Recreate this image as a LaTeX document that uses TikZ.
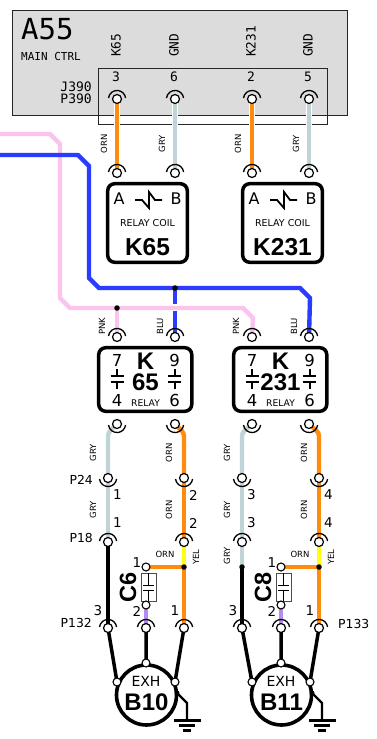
\documentclass[tikz,border=0pt]{standalone}
\usepackage{fontspec}
\setmainfont{DejaVu Sans}
\newfontfamily\mono{DejaVu Sans Mono}
\newfontfamily\arial{Liberation Sans}
\definecolor{orn}{HTML}{FF8C0F}
\definecolor{gry}{HTML}{C0D4D8}
\definecolor{pnk}{HTML}{FAC4EE}
\definecolor{blu}{HTML}{2A3CFF}
\definecolor{yel}{HTML}{FFFF10}
\definecolor{pur}{HTML}{B48CF0}
\definecolor{panel}{HTML}{DCDCDC}
\usetikzlibrary{calc}
\tikzset{
 x=1pt,y=-1pt,
 halo/.style={draw=white,line width=6pt},
 wire/.style={line width=4.4pt},
 pin/.style={circle,draw=black,fill=white,line width=1.2pt,minimum size=9pt,inner sep=0pt,outer sep=0pt},
 term/.style={circle,draw=black,fill=white,line width=1.1pt,minimum size=8pt,inner sep=0pt},
 dot/.style={circle,fill=black,minimum size=5.5pt,inner sep=0pt},
 box/.style={draw=black,fill=white,line width=3.5pt,rounded corners=7pt},
 wl/.style={font=\fontsize{8.5}{8.5}\selectfont,rotate=90,inner sep=0pt},
 pl/.style={font=\fontsize{13.5}{13.5}\selectfont,inner sep=0pt},
 rn/.style={font=\fontsize{16.5}{16.5}\selectfont,inner sep=0pt},
 conn/.style={font=\mono\fontsize{13}{13}\selectfont,inner sep=0pt,anchor=east},
 plabel/.style={font=\fontsize{12.4}{12.4}\selectfont,inner sep=0pt},
}
\newcommand{\arcup}[1]{\draw[line width=1.3pt] ($(#1)+(-8.5,-1)$) arc[start angle=187,end angle=353,radius=8.6] ;}
\newcommand{\arcdn}[1]{\draw[line width=1.3pt] ($(#1)+(-8.5,1)$) arc[start angle=173,end angle=7,radius=8.6];}
\begin{document}
\begin{tikzpicture}
\useasboundingbox (0,0) rectangle (377,739);
\fill[white] (0,0) rectangle (377,739);
% panel
\node[draw=black!85,fill=panel,line width=1.2pt,minimum width=335pt,minimum height=105pt,inner sep=0pt] (panel) at (180,63) {};
\node[anchor=west,inner sep=0pt,font=\fontsize{29}{29}\selectfont\mono] (a55) at (21,29) {A55};
\node[anchor=west,inner sep=0pt,font=\fontsize{11}{11}\selectfont\mono] (mc) at (21,56) {MAIN CTRL};
\node[conn] (j) at (92,87) {J390};
\node[conn] (p) at (92,99) {P390};
\node[draw=black!85,line width=1.2pt,minimum width=229pt,minimum height=56pt,inner sep=0pt] (jb) at (213,96.3) {};
\foreach \x/\t/\n in {116/K65/3,174/GND/6,251/K231/2,308/GND/5}{
 \node[rotate=90,anchor=west,inner sep=0pt,font=\fontsize{12.8}{12.8}\selectfont\mono] at (\x,57) {\t};
 \node[font=\fontsize{13}{13}\selectfont\mono,inner sep=0pt] at (\x,77) {\n};
}
% coordinates
\foreach \x/\n in {117/a,175/b,252/c,309/d}{
 \coordinate (t\n) at (\x,99);
 \coordinate (m\n) at (\x,173);
 \coordinate (r\n) at (\x,337);
 \coordinate (s\n) at (\x,424);
}
% upper wires
\foreach \n/\c in {a/orn,b/gry,c/orn,d/gry}{
 \draw[halo] (t\n) -- (m\n);
 \draw[wire,\c] (t\n) -- (m\n);
}
\foreach \x/\t in {104/ORN,162/GRY,238/ORN,296/GRY}{
 \node[wl] at (\x,144) {\t};
}
% blue, pink trunks
\coordinate (pk0) at (0,134); \coordinate (bl0) at (0,155);
\draw[wire,blu] (175,288) -- (175,304);
\draw[wire,blu] (175,311) -- (rb);
\draw[wire,pnk] (pk0) -- (50,134) -- (60,144) -- (60,298) -- (70,308) -- (243,308) -- (253,318) -- (rc);
\draw[wire,pnk] (117,308) -- (ra);
\draw[wire,blu] (bl0) -- (78,155) -- (89,166) -- (89,278) -- (99,288) -- (300,288) -- (310,298) -- (rd);
\node[dot] (j1) at (175,288) {};
\node[dot] (j2) at (117,308) {};
\foreach \x/\t in {102/PNK,160/BLU,236/PNK,294/BLU}{
 \node[wl] at (\x,326) {\t};
}
% coils
\foreach \xx/\nm in {106/K65,241/K231}{
 \begin{scope}[shift={(\xx,0)}]
 \draw[box] (1.7,183.7) rectangle (81.3,262.3);
 \node[font=\fontsize{16}{16}\selectfont,inner sep=0pt] at (13,199) {A};
 \node[font=\fontsize{16}{16}\selectfont,inner sep=0pt] at (70,199) {B};
 \draw[line width=1.8pt,line join=miter] (29,200) -- (36,200) -- (43,208) -- (43,192) -- (49,200) -- (56,200);
 \node[font=\fontsize{9.5}{9.5}\selectfont,inner sep=0pt] at (41.5,223) {RELAY COIL};
 \node[font=\arial\bfseries\fontsize{24.5}{24.5}\selectfont,inner sep=0pt] at (41.5,247) {\nm};
 \end{scope}
}
% relays
\foreach \xx/\nm in {97/65,232/231}{
 \begin{scope}[shift={(\xx,0)}]
 \draw[box] (1.7,347.7) rectangle (94.8,411.3);
 \node[font=\arial\bfseries\fontsize{24}{24}\selectfont,inner sep=0pt] at (48.5,361) {K};
 \node[font=\arial\bfseries\fontsize{24}{24}\selectfont,inner sep=0pt] at (48.5,382) {\nm};
 \node[font=\fontsize{9.2}{9.2}\selectfont,inner sep=0pt] at (48.5,403) {RELAY};
 \node[rn] at (20,360) {7};
 \node[rn] at (77.5,360) {9};
 \node[rn] at (20,400) {4};
 \node[rn] at (77.5,400) {6};
 \foreach \cx in {20,77.5}{
  \draw[line width=2pt] (\cx-6.5,376) -- (\cx+6.5,376) (\cx-6.5,382) -- (\cx+6.5,382) (\cx,369) -- (\cx,376) (\cx,382) -- (\cx,389);
 }
 \end{scope}
}
% lower sections
\foreach \g/\r/\cn/\mt/\pa/\pb/\c/\cb/\ca in {117/175/C6/B10/1/2/146/108/184,252/309/C8/B11/3/4/281/242/319}{
 \coordinate (ga) at (\cb,478);
 \coordinate (gb) at (\cb,542);
 \coordinate (gc) at (\cb,628);
 \coordinate (oa) at (\ca,478);
 \coordinate (ob) at (\ca,542);
 \coordinate (oc) at (\ca,628);
 \coordinate (jn) at (\ca,567);
 \coordinate (ct) at (\c,567);
 \coordinate (cb) at (\c,605);
 \coordinate (pc) at (\c,628);
 \coordinate (mo) at (\c+.5,695);
 \draw[wire,gry,rounded corners=3pt] (\g,424) -- (\cb,433) -- (ga);
 \draw[wire,orn,rounded corners=3pt] (\r,424) -- (\ca,433) -- (oa);
 \draw[wire,gry] (ga) -- (gb);
 \draw[wire,orn] (oa) -- (ob);
 \draw[wire,yel] (ob) -- (jn);
 \draw[wire,orn] (jn) -- (oc);
 \draw[wire,orn] (ct) -- (jn);
 \draw[wire,pur] (cb) -- (pc);
 \ifnum\pa=3
  \draw[wire,gry] (gb) -- (\cb,567);
  \draw[wire,black] (\cb,567) -- (gc);
  \node[dot] at (\cb,567) {};
  \node[wl] at (\cb-15,556) {GRY};
 \else
  \draw[wire,black] (gb) -- (gc);
 \fi
 \node[dot] at (jn) {};
 \node[wl] at (\cb-15,453) {GRY};
 \node[wl] at (\cb-15,510) {GRY};
 \node[wl] at (\ca-15,453) {ORN};
 \node[wl] at (\ca-15,510) {ORN};
 \node[wl] at (\ca+12,557) {YEL};
 \node[font=\fontsize{8.5}{8.5}\selectfont,inner sep=0pt] at (\ca-19,554) {ORN};
 % pin numbers
 \node[pl] at (\cb+9.5,495) {\pa};
 \node[pl] at (\cb+9.5,523) {\pa};
 \node[pl] at (\ca+9.5,495) {\pb};
 \node[pl] at (\ca+9.5,523) {\pb};
 % capacitor
 \node[draw=black!70,fill=white,line width=.9pt,minimum width=15pt,minimum height=28pt,inner sep=0pt] (cap) at (\c+2.5,587) {};
 \draw[line width=.8pt] (\c+2.5,573) -- (\c+2.5,585) (\c-3,585) -- (\c+8,585) (\c-3,590) -- (\c+8,590) (\c+2.5,590) -- (\c+2.5,601);
 \node[rotate=90,font=\arial\bfseries\fontsize{23.5}{23.5}\selectfont,inner sep=0pt] at (\c-18,587) {\cn};
 \node[term] at (ct) {};
 \node[term] at (cb) {};
 \node[pl] at (\c-9,563) {1};
 % motor
 \draw[line width=3.6pt,fill=white] (mo) circle[radius=30];
 \node[font=\fontsize{14}{14}\selectfont,inner sep=0pt] at (\c,681.5) {EXH};
 \node[font=\arial\bfseries\fontsize{24}{24}\selectfont,inner sep=0pt] at (\c+.5,702) {\mt};
 \coordinate (tm) at (\c,663);
 \coordinate (lm) at (\c-29,682);
 \coordinate (rm) at (\c+29,682);
 \draw[line width=3.5pt] (gc) -- (lm) (pc) -- (tm) (oc) -- (rm);
 \draw[line width=2.4pt] (\c+31,693) -- (\c+41,703) -- (\c+41,720);
 \fill (\c+31,693) circle[radius=2.5];
 \draw[line width=2.2pt] (\c+28,720.5) -- (\c+55,720.5) (\c+33,725.5) -- (\c+49,725.5) (\c+37,730.5) -- (\c+45,730.5);
 \node[term] at (tm) {};
 \node[term] at (lm) {};
 \node[term] at (rm) {};
 \node[pl] at (\c-48,611) {3};
 \node[pl] at (\c-9,611) {2};
 \node[pl] at (\c+29,611) {1};
 % pins lower
 \node[pin] at (ga) {}; \arcdn{ga}
 \node[pin] at (oa) {}; \arcdn{oa}
 \node[pin] at (gb) {}; \arcup{gb}
 \node[pin] at (ob) {}; \arcup{ob}
 \node[pin] at (gc) {}; \arcup{gc}
 \node[pin] at (pc) {}; \arcup{pc}
 \node[pin] at (oc) {}; \arcup{oc}
}
\node[anchor=east,plabel] at (93,480) {P24};
\node[anchor=east,plabel] at (93,538) {P18};
\node[anchor=east,plabel] at (92,623) {P132};
\node[anchor=west,plabel] at (338,624) {P133};
% pins upper
\foreach \n in {a,b,c,d}{
 \node[pin] at (t\n) {}; \arcup{t\n}
 \node[pin] at (m\n) {}; \arcup{m\n}
 \node[pin] at (r\n) {}; \arcup{r\n}
 \node[pin] at (s\n) {}; \arcdn{s\n}
}
\end{tikzpicture}
\end{document}
